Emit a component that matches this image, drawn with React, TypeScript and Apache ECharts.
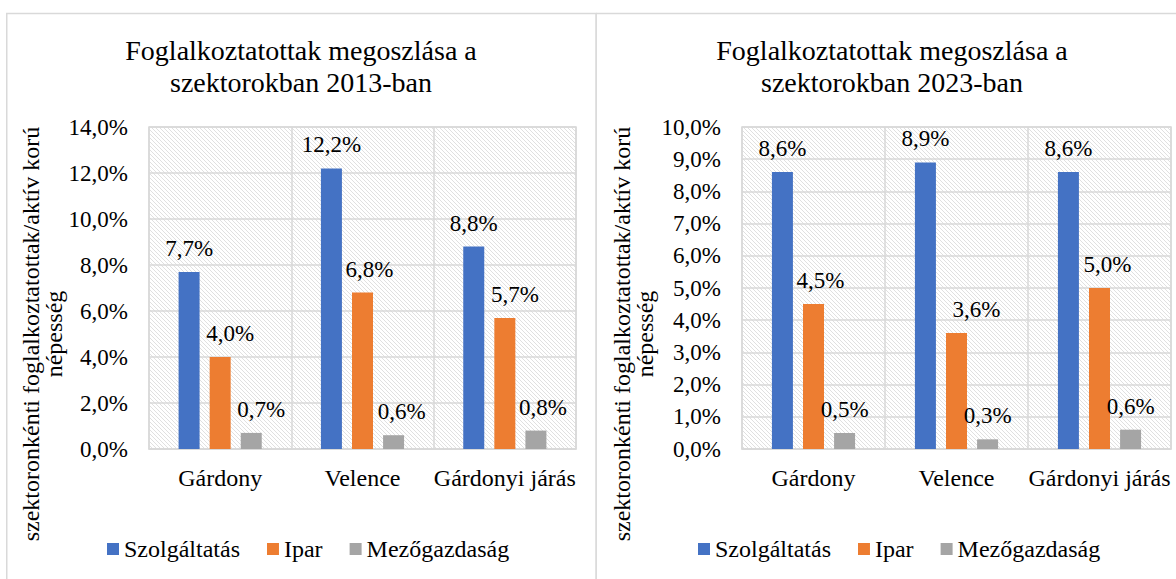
import React, { useEffect, useRef } from "react";
import * as echarts from "echarts";

const categories = ["Gárdony", "Velence", "Gárdonyi járás"];
const seriesNames = ["Szolgáltatás", "Ipar", "Mezőgazdaság"];
const colors = ["#4472C4", "#ED7D31", "#A5A5A5"];

const services2013 = [7.7, 12.2, 8.8];
const industry2013 = [4.0, 6.8, 5.7];
const agriculture2013 = [0.7, 0.6, 0.8];

const services2023 = [8.6, 8.9, 8.6];
const industry2023 = [4.5, 3.6, 5.0];
const agriculture2023 = [0.5, 0.3, 0.6];

// horizontal nudges of the value labels (as placed in the original), px
const labelShift2013 = [
  [0, 0, 0],
  [10, 7, 10],
  [10, 8, 7],
];
const labelShift2023 = [
  [0, 0, 0],
  [7, 20, 8],
  [0, 0, 0],
];

const title2013 = "Foglalkoztatottak megoszlása a\nszektorokban 2013-ban";
const title2023 = "Foglalkoztatottak megoszlása a\nszektorokban 2023-ban";
const yAxisName = "szektoronkénti foglalkoztatottak/aktív korú\nnépesség";

const FONT = "Liberation Serif";
const GRID_COLOR = "#d9d9d9";

const hatchSvg =
  '<svg xmlns="http://www.w3.org/2000/svg" width="4" height="4">' +
  '<rect width="4" height="4" fill="#ffffff"/>' +
  '<path d="M-1,-1 L5,5 M-1,3 L1,5 M3,-1 L5,1" stroke="#dcdcdc" stroke-width="0.9"/></svg>';
const hatchUrl = "data:image/svg+xml;charset=utf-8," + encodeURIComponent(hatchSvg);

const pct = (v: number) => v.toFixed(1).replace(".", ",") + "%";

function buildOption(cfg: {
  title: string;
  data: number[][];
  shifts: number[][];
  max: number;
  interval: number;
  gridLeft: number;
  gridWidth: number;
  legendLeft: number;
  nameX: number;
  borderX: number;
  borderW: number;
}) {
  return {
    animation: false,
    textStyle: { fontFamily: FONT },
    title: {
      text: cfg.title,
      left: "center",
      top: 29,
      textStyle: {
        fontFamily: FONT,
        fontSize: 28,
        fontWeight: "normal",
        color: "#000",
        lineHeight: 32,
      },
    },
    legend: {
      data: seriesNames,
      left: cfg.legendLeft,
      top: 532,
      icon: "rect",
      itemWidth: 12,
      itemHeight: 12,
      itemGap: 27,
      textStyle: { fontFamily: FONT, fontSize: 24, color: "#000" },
    },
    grid: {
      left: cfg.gridLeft,
      top: 127,
      width: cfg.gridWidth,
      height: 322,
      show: true,
      backgroundColor: {
        image: hatchUrl,
        repeat: "repeat",
        imageWidth: 4,
        imageHeight: 4,
      },
      borderColor: GRID_COLOR,
      borderWidth: 1.5,
    },
    xAxis: {
      type: "category",
      data: categories,
      axisTick: { show: false },
      axisLine: { show: true, lineStyle: { color: GRID_COLOR, width: 1.5 } },
      axisLabel: {
        interval: 0,
        margin: 17,
        fontFamily: FONT,
        fontSize: 24,
        color: "#000",
      },
      splitLine: { show: true, lineStyle: { color: GRID_COLOR, width: 1.5 } },
    },
    yAxis: {
      type: "value",
      min: 0,
      max: cfg.max,
      interval: cfg.interval,
      axisLine: { show: false },
      axisTick: { show: false },
      axisLabel: {
        margin: 21,
        fontFamily: FONT,
        fontSize: 23,
        color: "#000",
        formatter: (v: number) => pct(v),
      },
      splitLine: { show: true, lineStyle: { color: GRID_COLOR, width: 1.5 } },
    },
    graphic: [
      {
        type: "rect",
        silent: true,
        shape: { x: cfg.borderX, y: 13.5, width: cfg.borderW, height: 620 },
        style: { fill: "none", stroke: GRID_COLOR, lineWidth: 1.5 },
      },
      {
        type: "text",
        x: cfg.nameX,
        y: 334,
        rotation: Math.PI / 2,
        style: {
          text: yAxisName,
          align: "center",
          verticalAlign: "middle",
          fontFamily: FONT,
          fontSize: 24,
          lineHeight: 23,
          fill: "#000",
        },
      },
    ],
    series: seriesNames.map((name, i) => ({
      name,
      type: "bar",
      data: cfg.data[i].map((v, j) => ({
        value: v,
        label: { offset: [cfg.shifts[i][j], 0] },
      })),
      barWidth: 21,
      barGap: "48%",
      itemStyle: { color: colors[i] },
      label: {
        show: true,
        position: "top",
        distance: 12,
        fontFamily: FONT,
        fontSize: 23,
        color: "#000",
        formatter: (p: any) => pct(p.value),
      },
    })),
  };
}

function ChartPanel(props: { option: any; style: React.CSSProperties }) {
  const ref = useRef<HTMLDivElement>(null);
  useEffect(() => {
    if (!ref.current) return;
    const chart = echarts.init(ref.current, undefined, { renderer: "svg" });
    chart.setOption(props.option);
    return () => chart.dispose();
  }, []);
  return <div ref={ref} style={props.style} />;
}

export default function App() {
  const left = buildOption({
    title: title2013,
    data: [services2013, industry2013, agriculture2013],
    shifts: labelShift2013,
    max: 14,
    interval: 2,
    gridLeft: 149,
    gridWidth: 427,
    legendLeft: 102,
    nameX: 42.5,
    borderX: 6.75,
    borderW: 589.25,
  });
  const right = buildOption({
    title: title2023,
    data: [services2023, industry2023, agriculture2023],
    shifts: labelShift2023,
    max: 10,
    interval: 1,
    gridLeft: 146,
    gridWidth: 429,
    legendLeft: 97,
    nameX: 37.5,
    borderX: 0,
    borderW: 620,
  });
  return (
    <div
      style={{
        position: "fixed",
        left: 0,
        top: 0,
        width: 1176,
        height: 579,
        overflow: "hidden",
        background: "#fff",
      }}
    >
      <ChartPanel
        option={left}
        style={{ position: "absolute", left: 0, top: 0, width: 602, height: 579 }}
      />
      <ChartPanel
        option={right}
        style={{ position: "absolute", left: 596, top: 0, width: 592, height: 579 }}
      />
    </div>
  );
}
